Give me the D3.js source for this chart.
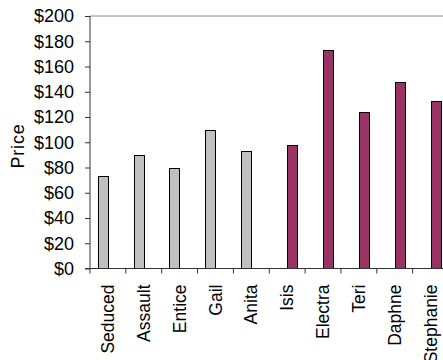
<!DOCTYPE html>
<html>
<head>
<meta charset="utf-8">
<script src="https://cdn.jsdelivr.net/npm/d3@7"></script>
<style>
  html, body { margin: 0; padding: 0; background: #fff; }
  svg { display: block; }
  text { font-family: "Liberation Sans", Arial, sans-serif; fill: #000; }
</style>
</head>
<body>
<svg id="chart" width="443" height="360"></svg>
<script>
// ---- data ----
const categories = ["Seduced", "Assault", "Entice", "Gail", "Anita", "Isis", "Electra", "Teri", "Daphne", "Stephanie"];
const seriesGrey   = [73, 90, 80, 110, 93, null, null, null, null, null];
const seriesPurple = [null, null, null, null, null, 98, 173, 124, 148, 133];
const yTicks = [0, 20, 40, 60, 80, 100, 120, 140, 160, 180, 200];
const yLabel = "Price";

// ---- layout ----
const W = 443, H = 360;
const plotLeft = 90, plotTop = 16, plotBottom = 268.5;
const step = 35.85;
const plotRight = plotLeft + step * categories.length;

const svg = d3.select("#chart");
svg.append("rect").attr("width", W).attr("height", H).attr("fill", "#fff");

const x = d3.scaleBand().domain(categories).range([plotLeft, plotRight]).padding(0);
const xs = d3.scaleBand().domain(["grey", "purple"]).range([0, x.bandwidth()])
  .paddingInner(0).paddingOuter(0.75);
const y = d3.scaleLinear().domain([0, 200]).range([plotBottom, plotTop]);

// top border line
svg.append("line")
  .attr("x1", plotLeft).attr("x2", W).attr("y1", y(200)).attr("y2", y(200))
  .attr("stroke", "#8a8a8a").attr("stroke-width", 1);

// bars
const series = [
  { key: "grey", values: seriesGrey, fill: "#C0C0C0" },
  { key: "purple", values: seriesPurple, fill: "#993366" }
];
series.forEach(s => {
  svg.append("g").selectAll("rect")
    .data(categories.map((c, i) => ({ c, v: s.values[i] })).filter(d => d.v != null))
    .join("rect")
    .attr("x", d => Math.round(x(d.c) + xs(s.key)) + 0.5)
    .attr("y", d => Math.round(y(d.v)) + 0.5)
    .attr("width", Math.round(xs.bandwidth()))
    .attr("height", d => plotBottom - Math.round(y(d.v)) - 0.5)
    .attr("fill", s.fill)
    .attr("stroke", "#000")
    .attr("stroke-width", 1);
});

// y axis
const yAxis = d3.axisLeft(y).tickValues(yTicks).tickSize(5).tickPadding(11)
  .tickFormat(d => "$" + d);
const gy = svg.append("g").attr("transform", `translate(${plotLeft},0)`).call(yAxis);
gy.select(".domain").attr("stroke", "#333").attr("d", `M0,${y(200)}V${plotBottom + 5}`);
gy.selectAll(".tick line").attr("stroke", "#333");
gy.selectAll("text").style("font-size", "18px").attr("fill", "#000");

// x axis baseline
svg.append("line")
  .attr("x1", plotLeft - 5).attr("x2", W).attr("y1", plotBottom).attr("y2", plotBottom)
  .attr("stroke", "#333").attr("stroke-width", 1);

// boundary ticks
svg.append("g").selectAll("line")
  .data(d3.range(1, categories.length + 1))
  .join("line")
  .attr("x1", i => x.range()[0] + i * x.step())
  .attr("x2", i => x.range()[0] + i * x.step())
  .attr("y1", plotBottom).attr("y2", plotBottom + 5)
  .attr("stroke", "#333");

// x labels
const xAxis = d3.axisBottom(x).tickSize(0).tickPadding(0);
const gx = svg.append("g").attr("transform", `translate(0,${plotBottom})`).call(xAxis);
gx.select(".domain").remove();
gx.selectAll("text")
  .style("font-size", "17.5px")
  .attr("fill", "#000")
  .attr("transform", "rotate(-90)")
  .attr("text-anchor", "end")
  .attr("x", -16)
  .attr("y", 0)
  .attr("dy", "0.35em");

// y label
svg.append("text")
  .attr("transform", `translate(24,146) rotate(-90)`)
  .attr("text-anchor", "middle")
  .style("font-size", "18px")
  .style("letter-spacing", "0.8px")
  .text(yLabel);
</script>
</body>
</html>
